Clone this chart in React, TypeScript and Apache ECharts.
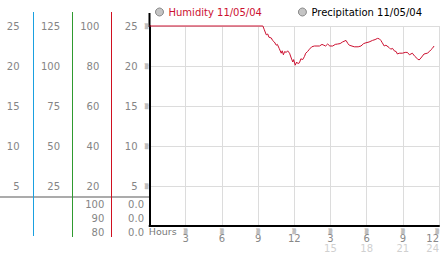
import React, { useEffect, useRef } from "react";
import * as echarts from "echarts";

// Humidity readings (hour of day, value)
const hours = [
  0, 9.4, 9.5, 9.68, 9.8, 9.9, 10.1, 10.2, 10.35, 10.51, 10.6, 10.75, 10.92, 11.0, 11.1, 11.2,
  11.34, 11.45, 11.61, 11.75, 11.88, 11.95, 12.08, 12.2, 12.3, 12.43, 12.55, 12.7, 12.85, 12.95,
  13.1, 13.26, 13.45, 13.67, 14.09, 14.3, 14.45, 14.6, 14.77, 14.95, 15.19, 15.4, 15.6, 15.8,
  16.0, 16.29, 16.45, 16.56, 16.98, 17.3, 17.53, 17.75, 17.94, 18.2, 18.49, 18.7, 18.9, 19.05,
  19.18, 19.3, 19.46, 19.6, 19.87, 20.0, 20.15, 20.29, 20.45, 20.55, 20.7, 20.97, 21.2, 21.38,
  21.55, 21.79, 22.0, 22.21, 22.35, 22.5, 22.76, 23.03, 23.2, 23.31, 23.45, 23.59,
];
const humidity = [
  25, 25, 24.6, 23.9, 24.0, 23.6, 23.5, 23.2, 23.0, 22.6, 22.7, 22.2, 21.6, 21.9, 21.4, 21.8,
  21.7, 21.9, 21.6, 21.0, 20.5, 20.8, 20.1, 20.5, 20.3, 20.4, 20.9, 20.8, 21.2, 21.6,
  21.8, 22.1, 22.4, 22.5, 22.5, 22.7, 22.6, 22.5, 22.75, 22.5, 22.5, 22.7, 22.75, 22.8,
  23.0, 23.2, 22.8, 22.6, 22.4, 22.4, 22.5, 22.8, 22.9, 23.0, 23.2, 23.3, 23.45, 23.4,
  23.2, 22.9, 22.5, 22.6, 22.3, 22.1, 22.2, 21.9, 21.8, 21.5, 21.6, 21.6, 21.7, 21.7,
  21.4, 21.6, 21.2, 20.9, 20.75, 21.0, 21.5, 21.6, 21.8, 22.0, 22.2, 22.5,
];
const precipitation: number[] = [];

// Tick labels
const xAxisName = "Hours";
const xTickTop = ["", "3", "6", "9", "12", "3", "6", "9", "12"];
const xTickBottom = ["", "", "", "", "", "15", "18", "21", "24"];
const lowerHumidityTicks = ["80", "90", "100"];
const lowerPrecipTicks = ["0.0", "0.0", "0.0"];
const tickMark = "▒";

const humidityName = "Humidity 11/05/04";
const precipName = "Precipitation 11/05/04";

const RED = "#cc1030";
const FONT = "DejaVu Sans";
const LABEL_GRAY = "#858585";

export default function App() {
  const ref = useRef<HTMLDivElement>(null);
  useEffect(() => {
    if (!ref.current) return;
    const chart = echarts.init(ref.current, null, { renderer: "svg" });
    const gridLeft = 149.5;
    const sideAxis = (gridIndex: number, offset: number, min: number, max: number, interval: number, extra: any = {}) => ({
      type: "value",
      gridIndex,
      position: "left",
      offset,
      min,
      max,
      interval,
      axisLine: { show: false },
      axisTick: { show: false },
      splitLine: { show: false },
      axisLabel: {
        margin: 2,
        color: LABEL_GRAY,
        fontFamily: FONT,
        fontSize: 10,
        showMinLabel: false,
        ...extra,
      },
    });
    const option: any = {
      animation: false,
      backgroundColor: "#ffffff",
      textStyle: { fontFamily: FONT },
      legend: {
        left: 150,
        top: 2,
        itemWidth: 8,
        itemHeight: 8,
        itemGap: 36,
        selectedMode: false,
        icon: "circle",
        textStyle: { fontFamily: FONT, fontSize: 10 },
        data: [
          {
            name: humidityName,
            textStyle: { color: RED },
            itemStyle: { color: "#c4c4c4", borderColor: "#8a8a8a", borderWidth: 1 },
          },
          {
            name: precipName,
            textStyle: { color: "#000" },
            itemStyle: { color: "#c4c4c4", borderColor: "#8a8a8a", borderWidth: 1 },
          },
        ],
      },
      grid: [
        { left: gridLeft, right: 2, top: 26, bottom: 27 },
        { left: gridLeft, right: 2, top: 204, height: 28 },
      ],
      xAxis: [
        {
          type: "value",
          gridIndex: 0,
          min: 0,
          max: 24,
          interval: 3,
          name: xAxisName,
          nameLocation: "start",
          nameGap: -4.5,
          nameTextStyle: {
            align: "left",
            verticalAlign: "top",
            fontFamily: FONT,
            fontSize: 9.5,
            lineHeight: 10,
            color: "#777",
            padding: [0, 0, 0, 3],
          },
          axisLine: { show: true, lineStyle: { color: "#000", width: 2 } },
          axisTick: { show: false },
          splitLine: { show: true, lineStyle: { color: "#dcdcdc", width: 1 } },
          axisLabel: {
            margin: 2,
            showMinLabel: false,
            showMaxLabel: true,
            hideOverlap: false,
            alignMaxLabel: "right",
            formatter: (_v: number, i: number) => {
              if (!xTickTop[i]) return "";
              const top = `{m|${tickMark}}\n{a|${xTickTop[i]}}`;
              return xTickBottom[i] ? `${top}\n{b|${xTickBottom[i]}}` : top;
            },
            rich: {
              m: { fontSize: 5, lineHeight: 6, color: "#8c8c8c", fontFamily: FONT },
              a: { fontSize: 10, lineHeight: 9, color: "#888", fontFamily: FONT },
              b: { fontSize: 10, lineHeight: 10, color: "#d0d0d0", fontFamily: FONT },
            },
          },
        },
        { type: "value", gridIndex: 1, show: false, min: 0, max: 1 },
      ],
      yAxis: [
        {
          type: "value",
          gridIndex: 0,
          min: 0,
          max: 25,
          interval: 5,
          axisLine: { show: true, lineStyle: { color: "#000", width: 2 } },
          axisTick: { show: false },
          splitLine: { show: true, lineStyle: { color: "#dcdcdc", width: 1 } },
          axisLabel: {
            margin: 1,
            color: "#8c8c8c",
            fontFamily: FONT,
            fontSize: 5,
            formatter: (v: number) => (v === 0 ? "" : tickMark),
          },
        },
        sideAxis(0, 10, 0, 25, 5),
        sideAxis(0, 48.2, 0, 100, 20),
        sideAxis(0, 87.5, 0, 125, 25),
        sideAxis(0, 128, 0, 25, 5),
        sideAxis(1, 43.2, 0, 2, 1, {
          showMinLabel: true,
          formatter: (_v: number, i: number) => lowerHumidityTicks[i],
        }),
        sideAxis(1, 3.5, 0, 2, 1, {
          showMinLabel: true,
          formatter: (_v: number, i: number) => lowerPrecipTicks[i],
        }),
      ],
      series: [
        {
          name: humidityName,
          type: "line",
          xAxisIndex: 0,
          yAxisIndex: 0,
          clip: false,
          showSymbol: false,
          symbol: "none",
          lineStyle: { color: RED, width: 1 },
          itemStyle: { color: RED },
          data: hours.map((h, i) => [h, humidity[i]]),
        },
        {
          name: precipName,
          type: "line",
          xAxisIndex: 0,
          yAxisIndex: 0,
          showSymbol: false,
          data: precipitation,
        },
      ],
      graphic: [
        { type: "rect", z: 99, shape: { x: 0, y: 196, width: 149, height: 2 }, style: { fill: "#ababab" } },
        { type: "rect", z: 100, shape: { x: 33, y: 12, width: 1, height: 224 }, style: { fill: "#1aa0e0" } },
        { type: "rect", z: 100, shape: { x: 72, y: 12, width: 1, height: 225 }, style: { fill: "#2f9a2f" } },
        { type: "rect", z: 100, shape: { x: 111, y: 12, width: 1, height: 225 }, style: { fill: "#d01020" } },
        { type: "rect", shape: { x: 148.5, y: 13, width: 2, height: 14 }, style: { fill: "#000" } },
      ],
    };
    chart.setOption(option);
    return () => chart.dispose();
  }, []);
  return (
    <div
      ref={ref}
      style={{ position: "fixed", left: 0, top: 0, width: 442, height: 253, background: "#fff" }}
    />
  );
}
